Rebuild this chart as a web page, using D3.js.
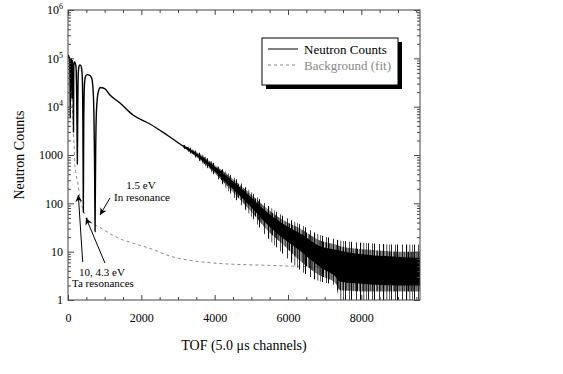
<!DOCTYPE html>
<html>
<head>
<meta charset="utf-8">
<script src="https://cdn.jsdelivr.net/npm/d3@7"></script>
<style>
  body { margin: 0; background: #fff; }
  svg { font-family: "Liberation Serif", "Times New Roman", serif; }
</style>
</head>
<body>
<div id="chart"></div>
<script>
// measured neutron counts (thin centre line) vs TOF channel
var tof = [0, 15, 30, 45, 55, 62, 70, 85, 100, 108, 116, 130, 142, 150, 158, 175, 195, 215, 232, 245, 254, 263, 275,
  295, 320, 345, 370, 390, 405, 413, 418, 423, 431, 450, 480, 525, 580, 640, 680, 705, 722, 732, 738, 744, 754, 770,
  800, 840, 873, 1000, 1145, 1418, 1773, 2236, 2700, 3136, 3600, 4064, 4500, 4964, 5427, 5864, 6327, 6873, 7418,
  8236, 9055, 9600];
var counts = [1.0e5, 1.15e5, 1.05e5, 9.5e4, 3e4, 6e3, 8e4, 1.0e5, 8e4, 1.5e4, 8.5e4, 9e4, 2e4, 3000, 7e4, 8.5e4,
  8e4, 7e4, 3e4, 4000, 650, 4000, 4e4, 6.5e4, 7.3e4, 7.2e4, 6.2e4, 4e4, 5000, 400, 65, 400, 6000, 3e4, 4.3e4,
  4.6e4, 4.5e4, 4.0e4, 2.5e4, 8000, 1000, 100, 26, 100, 1000, 6000, 1.5e4, 2.2e4, 2.5e4, 2.35e4, 1.75e4, 1.19e4,
  6730, 4380, 2590, 1535, 910, 467, 240, 112, 50, 28, 17.4, 9.8, 6.7, 5.3, 4.8, 4.6];

// counting noise: dense core, inner spikes, outer spikes
var noiseTof = [3136, 3600, 4064, 4500, 4964, 5427, 5864, 6327, 6873, 7300, 7418, 8236, 9055, 9600];
var coreHigh = [1580, 980, 530, 285, 140, 66, 38, 24, 13, 11, 10.5, 8.5, 7.8, 7.4];
var coreLow = [1490, 840, 410, 195, 88, 37, 19, 10.5, 4.8, 3.0, 2.4, 2.1, 2.0, 2.0];
var midHigh = [1620, 1040, 570, 320, 160, 78, 45, 30, 17, 14, 13, 11, 10, 10];
var midLow = [1450, 790, 375, 170, 72, 28, 14, 6.5, 3.2, 2.2, 1.6, 1.5, 1.5, 1.5];
var spikeHigh = [1660, 1100, 610, 360, 180, 92, 55, 37, 22, 18, 17, 15, 14, 14];
var spikeLow = [1410, 740, 340, 140, 58, 20, 9, 4.2, 2.4, 2.0, 1, 1, 1, 1];

// background fit
var bgTof = [100, 130, 160, 190, 273, 327, 464, 600, 860, 1450, 1773, 2360, 2700, 3600, 4000, 5500, 7000, 8500, 9600];
var bgCounts = [2.0e4, 6000, 2000, 600, 250, 130, 60, 42, 32, 18, 15, 10.8, 8.5, 6.2, 5.8, 5.2, 4.8, 4.5, 4.3];

var xTicks = [0, 2000, 4000, 6000, 8000];
var yTicks = [1, 10, 100, 1000, 1e4, 1e5, 1e6];

var noteText = ['1.5 eV', 'In resonance', '10, 4.3 eV', 'Ta resonances'];
var noteTof = [1991, 2018, 300, 109];
var noteCounts = [198, 112, 3.14, 1.86];
var noteAnchor = ['middle', 'middle', 'start', 'start'];

var arrowFromTof = [1145, 401, 1009];
var arrowFromCounts = [129, 6.1, 5.8];
var arrowToTof = [873, 281, 491];
var arrowToCounts = [57.4, 149, 49.8];

var W = 563, H = 374;
var padL = 68, padR = 420, padT = 10, padB = 300;
var axisColor = '#444';

var svg = d3.select('#chart').append('svg')
  .attr('width', W)
  .attr('height', H);

var x = d3.scaleLinear().domain([0, 9600]).range([padL, padR]);
var y = d3.scaleLog().domain([1, 1e6]).range([padB, padT]).clamp(true);

var defs = svg.append('defs');
defs.append('clipPath').attr('id', 'plotClip')
  .append('rect')
  .attr('x', padL).attr('y', padT)
  .attr('width', padR - padL).attr('height', padB - padT);

// irregular vertical strokes for the spiky parts of the noise
function stripes(id, w, strokes) {
  var p = defs.append('pattern')
    .attr('id', id)
    .attr('patternUnits', 'userSpaceOnUse')
    .attr('width', w).attr('height', 10);
  strokes.forEach(function (s) {
    p.append('rect').attr('x', s[0]).attr('y', 0).attr('width', s[1]).attr('height', 10).attr('fill', '#000');
  });
}
stripes('dense', 17, [[0, 1], [1.8, 0.8], [3.2, 1.1], [5, 0.7], [6.3, 1.2], [8.4, 0.6], [9.5, 1],
  [11.6, 0.9], [13, 0.7], [14.6, 1.1], [16.2, 0.6]]);
stripes('sparse', 23, [[0, 0.9], [4, 0.7], [6, 1], [11, 0.8], [15, 1.1], [18.5, 0.7], [21, 0.6]]);

defs.append('marker')
  .attr('id', 'head')
  .attr('viewBox', '0 0 10 10')
  .attr('refX', 10).attr('refY', 5)
  .attr('markerWidth', 9).attr('markerHeight', 7)
  .attr('markerUnits', 'userSpaceOnUse')
  .attr('orient', 'auto')
  .append('path')
  .attr('d', 'M0,0 L10,5 L0,10 L3,5 Z')
  .attr('fill', '#000');

var plot = svg.append('g').attr('clip-path', 'url(#plotClip)');

/* curves */
var bgData = bgTof.map(function (t, i) { return [t, bgCounts[i]]; });
plot.append('path')
  .datum(bgData)
  .attr('fill', 'none')
  .attr('stroke', '#888')
  .attr('stroke-width', 1)
  .attr('stroke-dasharray', '3,3')
  .attr('d', d3.line()
    .x(function (d) { return x(d[0]); })
    .y(function (d) { return y(d[1]); })
    .curve(d3.curveMonotoneX));

var mainData = tof.map(function (t, i) { return [t, counts[i]]; });
plot.append('path')
  .datum(mainData)
  .attr('fill', 'none')
  .attr('stroke', '#000')
  .attr('stroke-width', 1.4)
  .attr('d', d3.line()
    .x(function (d) { return x(d[0]); })
    .y(function (d) { return y(d[1]); })
    .curve(d3.curveMonotoneX));

var noiseIdx = d3.range(noiseTof.length);
function band(lo, hi, fill) {
  plot.append('path')
    .datum(noiseIdx)
    .attr('fill', fill)
    .attr('d', d3.area()
      .x(function (i) { return x(noiseTof[i]); })
      .y0(function (i) { return y(lo[i]); })
      .y1(function (i) { return y(hi[i]); })
      .curve(d3.curveMonotoneX));
}
band(spikeLow, spikeHigh, 'url(#sparse)');
band(midLow, midHigh, 'url(#dense)');
band(coreLow, coreHigh, '#000');

/* axes */
var xMinor = d3.range(500, 9600, 500).filter(function (v) { return v % 2000 !== 0; });
var yMinor = [];
for (var n = 0; n < 6; n++) {
  for (var k = 2; k <= 9; k++) { yMinor.push(k * Math.pow(10, n)); }
}

function styleAxis(g) {
  g.select('.domain').remove();
  g.selectAll('line').attr('stroke', axisColor);
  g.selectAll('text').attr('fill', '#000').attr('font-size', 12)
    .attr('font-family', '"Liberation Serif", "Times New Roman", serif');
}

svg.append('g').attr('transform', 'translate(0,' + padB + ')')
  .call(d3.axisBottom(x).tickValues(xTicks).tickSize(-5).tickSizeOuter(0).tickPadding(13).tickFormat(d3.format('d')))
  .call(styleAxis);
svg.append('g').attr('transform', 'translate(0,' + padB + ')')
  .call(d3.axisBottom(x).tickValues(xMinor).tickSize(-3).tickSizeOuter(0).tickFormat(''))
  .call(styleAxis);
svg.append('g').attr('transform', 'translate(0,' + padT + ')')
  .call(d3.axisTop(x).tickValues(xTicks).tickSize(-5).tickSizeOuter(0).tickFormat(''))
  .call(styleAxis);
svg.append('g').attr('transform', 'translate(0,' + padT + ')')
  .call(d3.axisTop(x).tickValues(xMinor).tickSize(-3).tickSizeOuter(0).tickFormat(''))
  .call(styleAxis);

var yAxisG = svg.append('g').attr('transform', 'translate(' + padL + ',0)')
  .call(d3.axisLeft(y).tickValues(yTicks).tickSize(-6).tickSizeOuter(0).tickPadding(5)
    .tickFormat(function (d) { return d >= 1e4 ? '' : String(d); }))
  .call(styleAxis);
yAxisG.selectAll('.tick text').each(function (d) {
  if (d >= 1e4) {
    var t = d3.select(this);
    t.append('tspan').text('10');
    t.append('tspan').attr('dy', -5).attr('font-size', 8).text(Math.round(Math.log10(d)));
  }
});
svg.append('g').attr('transform', 'translate(' + padL + ',0)')
  .call(d3.axisLeft(y).tickValues(yMinor).tickSize(-3).tickSizeOuter(0).tickFormat(''))
  .call(styleAxis);
svg.append('g').attr('transform', 'translate(' + padR + ',0)')
  .call(d3.axisRight(y).tickValues(yTicks).tickSize(-6).tickSizeOuter(0).tickFormat(''))
  .call(styleAxis);
svg.append('g').attr('transform', 'translate(' + padR + ',0)')
  .call(d3.axisRight(y).tickValues(yMinor).tickSize(-3).tickSizeOuter(0).tickFormat(''))
  .call(styleAxis);

svg.append('rect')
  .attr('x', padL).attr('y', padT)
  .attr('width', padR - padL).attr('height', padB - padT)
  .attr('fill', 'none')
  .attr('stroke', axisColor)
  .attr('stroke-width', 1);

/* axis titles */
svg.append('text')
  .attr('x', (padL + padR) / 2)
  .attr('y', 350)
  .attr('text-anchor', 'middle')
  .attr('font-size', 14)
  .text('TOF (5.0 \u03bcs channels)');

svg.append('text')
  .attr('transform', 'translate(24,' + (padT + padB) / 2 + ') rotate(-90)')
  .attr('text-anchor', 'middle')
  .attr('font-size', 14)
  .text('Neutron Counts');

/* annotations */
noteText.forEach(function (s, i) {
  svg.append('text')
    .attr('x', x(noteTof[i]))
    .attr('y', y(noteCounts[i]))
    .attr('text-anchor', noteAnchor[i])
    .attr('font-size', 11)
    .text(s);
});

arrowFromTof.forEach(function (t, i) {
  svg.append('line')
    .attr('x1', x(t)).attr('y1', y(arrowFromCounts[i]))
    .attr('x2', x(arrowToTof[i])).attr('y2', y(arrowToCounts[i]))
    .attr('stroke', '#000')
    .attr('stroke-width', 1)
    .attr('marker-end', 'url(#head)');
});

/* legend */
var lg = svg.append('g').attr('transform', 'translate(262,38)');
lg.append('rect').attr('x', 4).attr('y', 4).attr('width', 136).attr('height', 47).attr('fill', '#000');
lg.append('rect').attr('x', 0).attr('y', 0).attr('width', 136).attr('height', 47)
  .attr('fill', '#fff').attr('stroke', '#000').attr('stroke-width', 1);
lg.append('line').attr('x1', 6).attr('x2', 36).attr('y1', 11).attr('y2', 11)
  .attr('stroke', '#000').attr('stroke-width', 1);
lg.append('text').attr('x', 42).attr('y', 15.5).attr('font-size', 13).text('Neutron Counts');
lg.append('line').attr('x1', 6).attr('x2', 36).attr('y1', 27).attr('y2', 27)
  .attr('stroke', '#888').attr('stroke-width', 1).attr('stroke-dasharray', '3,3');
lg.append('text').attr('x', 42).attr('y', 31.5).attr('font-size', 13).attr('fill', '#888').text('Background (fit)');
</script>
</body>
</html>
